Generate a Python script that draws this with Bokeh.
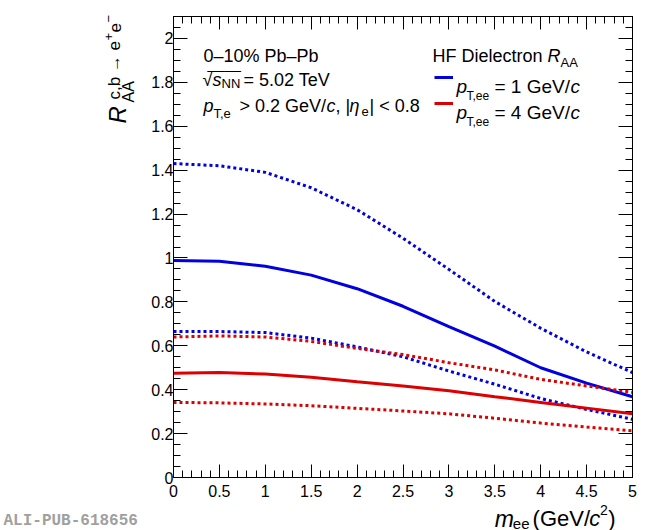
from math import pi
from bokeh.plotting import figure
from bokeh.layouts import row, column
from bokeh.models import (Range1d, LinearAxis, SingleIntervalTicker, Label,
                          Legend, LegendItem, CustomJSTickFormatter)
from bokeh.embed import file_html
from bokeh.resources import INLINE

# ---------------- data ----------------
m_ee = [0.0, 0.5, 1.0, 1.5, 2.0, 2.5, 3.0, 3.5, 4.0, 4.5, 5.0]
raa_pt1_central = [0.988, 0.985, 0.962, 0.922, 0.860, 0.780, 0.687, 0.598, 0.500, 0.430, 0.368]
raa_pt1_upper   = [1.430, 1.420, 1.390, 1.320, 1.220, 1.090, 0.948, 0.802, 0.680, 0.572, 0.478]
raa_pt1_lower   = [0.665, 0.665, 0.660, 0.635, 0.595, 0.550, 0.485, 0.425, 0.360, 0.310, 0.265]
raa_pt4_central = [0.475, 0.478, 0.471, 0.457, 0.436, 0.417, 0.395, 0.368, 0.342, 0.316, 0.290]
raa_pt4_upper   = [0.640, 0.645, 0.640, 0.620, 0.588, 0.560, 0.523, 0.490, 0.447, 0.417, 0.388]
raa_pt4_lower   = [0.342, 0.340, 0.335, 0.327, 0.315, 0.303, 0.290, 0.270, 0.248, 0.230, 0.213]

x_range_vals = (0, 5)
y_range_vals = (0, 2.1)

FONT = "Liberation Sans"
BLUE = "#0000e0"
RED = "#dc0000"

# page layout (pixels): left text panel | main plot over x-title panel
LEFT_W = 140
MAIN_W, MAIN_H = 510, 502
XT_OVER = 12                      # x-title panel overlaps the plot's bottom border
XT_H = 28 + XT_OVER
TOTAL_H = 530

# ---------------- main figure ----------------
p = figure(width=MAIN_W, height=MAIN_H,
           x_range=Range1d(*x_range_vals), y_range=Range1d(*y_range_vals),
           output_backend="svg", toolbar_location=None,
           min_border_left=33, min_border_right=18,
           min_border_top=16, min_border_bottom=25)
p.xgrid.visible = False
p.ygrid.visible = False
p.outline_line_color = "black"
p.outline_line_width = 1
p.background_fill_color = "white"
p.border_fill_color = "white"

fmt = CustomJSTickFormatter(code="return String(Number(tick.toFixed(2)));")
blank = CustomJSTickFormatter(code="return '';")


def xt():
    return SingleIntervalTicker(interval=0.5, num_minor_ticks=5)


def yt():
    return SingleIntervalTicker(interval=0.2, num_minor_ticks=4)


def style(ax, ticker, formatter, major_len, standoff):
    ax.ticker = ticker
    ax.formatter = formatter
    ax.major_tick_in = major_len
    ax.major_tick_out = 0
    ax.minor_tick_in = 7
    ax.minor_tick_out = 0
    ax.major_tick_line_color = "black"
    ax.minor_tick_line_color = "black"
    ax.axis_line_color = "black"
    ax.major_label_text_font = FONT
    ax.major_label_text_font_size = "16px"
    ax.major_label_text_color = "black"
    ax.major_label_standoff = standoff
    ax.axis_label = None


style(p.xaxis[0], xt(), fmt, 13, 7)
style(p.yaxis[0], yt(), fmt, 14, 0)

top = LinearAxis()
style(top, xt(), blank, 13, 0)
p.add_layout(top, "above")
right = LinearAxis()
style(right, yt(), blank, 14, 0)
p.add_layout(right, "right")

# ---------------- curves ----------------
r1 = p.line(m_ee, raa_pt1_central, line_color=BLUE, line_width=3)
p.line(m_ee, raa_pt1_upper, line_color=BLUE, line_width=3, line_dash="3 3")
p.line(m_ee, raa_pt1_lower, line_color=BLUE, line_width=3, line_dash="3 3")
r4 = p.line(m_ee, raa_pt4_central, line_color=RED, line_width=3)
p.line(m_ee, raa_pt4_upper, line_color=RED, line_width=3, line_dash="3 3")
p.line(m_ee, raa_pt4_lower, line_color=RED, line_width=3, line_dash="3 3")

# legend sample lines (their texts are drawn separately below)
leg = Legend(items=[LegendItem(label=" ", renderers=[r1]),
                    LegendItem(label=" ", renderers=[r4])],
             location=(261, 361), orientation="vertical",
             glyph_width=19, glyph_height=26, label_height=26,
             label_width=0, label_standoff=0, spacing=0, padding=0, margin=0,
             label_text_font_size="2px",
             border_line_alpha=0, background_fill_alpha=0)
p.add_layout(leg)

# ---------------- texts inside the frame ----------------
FX0, FX1 = 173.0, 632.0
FY0, FY1 = 477.0, 16.0


def dx(px):
    return (px - FX0) / (FX1 - FX0) * (x_range_vals[1] - x_range_vals[0])


def dy(py):
    return (FY0 - py) / (FY0 - FY1) * (y_range_vals[1] - y_range_vals[0])


def mk(text, x, y, size, italic=False, angle=0.0, color="black", font=FONT,
       bold=False):
    style_ = "italic" if italic else ("bold" if bold else "normal")
    return Label(x=x, y=y, text=text, text_font=font,
                 text_font_size=f"{size}px", text_font_style=style_,
                 angle=angle, text_align="left", text_baseline="alphabetic",
                 text_color=color)


def lab(text, px, py, size, **kw):
    p.add_layout(mk(text, dx(px), dy(py), size, **kw))


# left block
lab("0\u201310% Pb\u2013Pb", 203, 55, 18)
lab("\u221a", 202, 79, 18)
lab("____", 207, 63, 15)            # bar of the square root
lab("s", 212, 79, 18, italic=True)
lab("NN", 221, 83, 13)
lab("= 5.02 TeV", 243, 79, 18)
lab("p", 203, 105, 18, italic=True)
lab("T,e", 213, 113, 13)
lab("> 0.2 GeV/", 239, 105, 18)
lab("c", 326, 105, 18, italic=True)
lab(", |", 335, 105, 18)
lab("\u03b7", 349, 105, 18, italic=True)
lab("e", 361, 111, 13)
lab("| < 0.8", 369, 105, 18)

# legend header + entries
lab("HF Dielectron", 432, 55, 18)
lab("R", 547, 55, 18, italic=True)
lab("AA", 560, 62, 13)
for py, val in ((86, "1"), (112, "4")):
    lab("p", 456, py, 19, italic=True)
    lab("T,ee", 466, py + 9, 12)
    lab("= " + val + " GeV/", 494, py, 19)
    lab("c", 570, py, 19, italic=True)

# ---------------- left panel: y-axis title + watermark ----------------
lp = figure(width=LEFT_W, height=TOTAL_H, x_range=Range1d(0, LEFT_W),
            y_range=Range1d(0, TOTAL_H), x_axis_type=None, y_axis_type=None,
            output_backend="svg", toolbar_location=None, min_border=0)
lp.outline_line_color = None
lp.xgrid.visible = False
lp.ygrid.visible = False


def llab(text, px, py, size, **kw):
    lp.add_layout(mk(text, px, TOTAL_H - py, size, **kw))


A = pi / 2
llab("R", 117, 123, 24, italic=True, angle=A)
llab("c,b \u2192 e", 114, 99, 17, angle=A)
llab("+", 108, 40, 13, angle=A)
llab("e", 114, 32, 17, angle=A)
llab("\u2212", 108, 22, 13, angle=A)
llab("AA", 128, 102, 16, angle=A)

llab("ALI-PUB-618656", 3, 520, 16, font="Liberation Mono", bold=True,
     color="#a0a0a0")

# ---------------- bottom panel: x-axis title ----------------
bp = figure(width=MAIN_W, height=XT_H, x_range=Range1d(0, MAIN_W),
            y_range=Range1d(0, XT_H), x_axis_type=None, y_axis_type=None,
            output_backend="svg", toolbar_location=None, min_border=0)
bp.outline_line_color = None
bp.xgrid.visible = False
bp.ygrid.visible = False
bp.background_fill_alpha = 0
bp.border_fill_alpha = 0
bp.margin = (-XT_OVER, 0, 0, 0)


def blab(text, px, py, size, **kw):
    bp.add_layout(mk(text, px - LEFT_W, TOTAL_H - py, size, **kw))


blab("m", 497, 518, 23, italic=True)
blab("ee", 517, 523, 15)
blab("(GeV/", 539, 518, 22)
blab("c", 602, 518, 22, italic=True)
blab("2", 614, 509, 14)
blab(")", 623, 518, 22)

layout = row(lp, column(p, bp))
open("out.html", "w").write(file_html(layout, INLINE))
